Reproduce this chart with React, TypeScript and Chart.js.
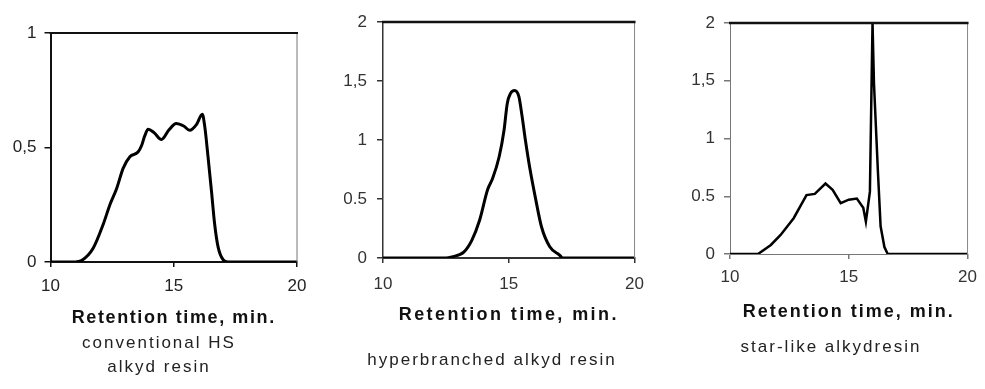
import React, { useEffect, useRef } from "react";
import { Chart, registerables } from "chart.js";

Chart.register(...registerables);

// ---------- data ----------
const hsTime = [10, 11, 11.26, 11.73, 12.14, 12.41, 12.68, 12.95, 13.22, 13.55, 13.7, 13.82, 13.96, 14.2, 14.5, 14.8, 15.1, 15.4, 15.65, 15.92, 16.16, 16.26, 16.39, 16.53, 16.66, 16.8, 17.0, 17.2, 20];
const hsSignal = [0, 0, 0.006, 0.06, 0.165, 0.25, 0.32, 0.41, 0.46, 0.48, 0.51, 0.55, 0.58, 0.565, 0.535, 0.576, 0.605, 0.594, 0.575, 0.6, 0.645, 0.59, 0.46, 0.31, 0.165, 0.065, 0.01, 0, 0];

const hbTime = [10, 12.5, 12.74, 13.21, 13.53, 13.84, 14.16, 14.36, 14.62, 14.81, 14.94, 15.07, 15.23, 15.4, 15.53, 15.66, 15.85, 16.05, 16.3, 16.63, 17.02, 17.15, 20];
const hbSignal = [0, 0, 0.01, 0.05, 0.15, 0.32, 0.58, 0.675, 0.86, 1.08, 1.31, 1.395, 1.42, 1.37, 1.2, 1.0, 0.745, 0.52, 0.265, 0.096, 0.025, 0, 0];

const starTime = [10, 11.18, 11.72, 12.13, 12.68, 13.22, 13.57, 14.02, 14.32, 14.66, 15.0, 15.34, 15.61, 15.72, 15.89, 15.96, 16.0, 16.06, 16.23, 16.34, 16.5, 16.64, 20];
const starSignal = [0, 0, 0.078, 0.165, 0.31, 0.51, 0.52, 0.61, 0.555, 0.44, 0.47, 0.48, 0.4, 0.28, 0.54, 1.48, 2.0, 1.48, 0.7, 0.24, 0.06, 0, 0];

const xTickValues = [10, 15, 20];
const xTickLabels = ["10", "15", "20"];

const hsYTickValues = [0, 0.5, 1];
const hsYTickLabels = ["0", "0,5", "1"];
const hbYTickValues = [0, 0.5, 1, 1.5, 2];
const hbYTickLabels = ["0", "0.5", "1", "1,5", "2"];
const starYTickValues = [0, 0.5, 1, 1.5, 2];
const starYTickLabels = ["0", "0.5", "1", "1,5", "2"];

const axisTitle = "Retention time, min.";
const hsCaption = ["conventional HS", "alkyd resin"];
const hbCaption = ["hyperbranched alkyd resin"];
const starCaption = ["star-like alkydresin"];

// ---------- plugin: frame + title letter spacing ----------
const framePlugin = {
  id: "frame",
  beforeDraw(chart: any, _args: any, opts: any) {
    (chart.ctx as any).letterSpacing = (opts.titleSpacing || 0) + "px";
  },
  beforeDatasetsDraw(chart: any) {
    (chart.ctx as any).letterSpacing = "0px";
  },
  afterDraw(chart: any, _args: any, opts: any) {
    const { ctx, chartArea: a } = chart;
    ctx.save();
    ctx.strokeStyle = opts.rightColor;
    ctx.lineWidth = opts.rightWidth;
    ctx.beginPath();
    ctx.moveTo(a.right, a.top);
    ctx.lineTo(a.right, a.bottom);
    ctx.stroke();
    ctx.strokeStyle = opts.topColor;
    ctx.lineWidth = opts.topWidth;
    ctx.beginPath();
    ctx.moveTo(a.left - 1, a.top);
    ctx.lineTo(a.right + 1, a.top);
    ctx.stroke();
    ctx.restore();
  },
};

type PanelSpec = {
  canvasLeft: number;
  width: number;
  areaLeft: number;
  areaRight: number;
  areaTop: number;
  areaBottom: number;
  titleY: number;
  titleSpacing: number;
  xs: number[];
  ys: number[];
  yMax: number;
  yTickValues: number[];
  yTickLabels: string[];
  lineWidth: number;
  tension: number;
  tickColor: string;
  leftColor: string;
  leftWidth: number;
  bottomColor: string;
  bottomWidth: number;
  topColor: string;
  topWidth: number;
  rightColor: string;
  rightWidth: number;
  xLabelPad: number;
  yLabelPad: number;
  caption: string[];
  captionX: number;
  captionY: number;
};

const H = 389;
const TITLE_FONT = 18;
const TICK_FONT = 17;
const FONT_FAMILY = "'Liberation Sans', Arial, sans-serif";

function Panel({ s }: { s: PanelSpec }) {
  const ref = useRef<HTMLCanvasElement | null>(null);
  useEffect(() => {
    if (!ref.current) return;
    const titleHalf = (TITLE_FONT * 1.2) / 2;
    const scaleBottom = s.titleY + titleHalf;
    const chart = new Chart(ref.current, {
      type: "line",
      data: {
        datasets: [
          {
            data: s.xs.map((x, i) => ({ x, y: s.ys[i] })),
            borderColor: "#000",
            borderWidth: s.lineWidth,
            pointRadius: 0,
            tension: s.tension,
            cubicInterpolationMode: s.tension > 0 ? "monotone" : "default",
            fill: false,
          },
        ],
      },
      options: {
        responsive: false,
        animation: false,
        devicePixelRatio: 1,
        layout: {
          padding: {
            left: 0,
            top: s.areaTop,
            right: s.width - s.areaRight,
            bottom: H - scaleBottom,
          },
        },
        plugins: {
          legend: { display: false },
          tooltip: { enabled: false },
          frame: {
            titleSpacing: s.titleSpacing,
            topColor: s.topColor,
            topWidth: s.topWidth,
            rightColor: s.rightColor,
            rightWidth: s.rightWidth,
          },
        } as any,
        scales: {
          x: {
            type: "linear",
            min: 10,
            max: 20,
            afterBuildTicks: (sc: any) => {
              sc.ticks = xTickValues.map((v) => ({ value: v }));
            },
            afterFit: (sc: any) => {
              sc.height = scaleBottom - s.areaBottom;
            },
            ticks: {
              z: 1,
              padding: s.xLabelPad,
              color: s.tickColor,
              font: { family: FONT_FAMILY, size: TICK_FONT },
              maxRotation: 0,
              autoSkip: false,
              callback: (_v: any, i: number) => xTickLabels[i],
            },
            grid: {
              display: true,
              drawOnChartArea: false,
              drawTicks: true,
              tickLength: 5,
              color: s.bottomColor,
              lineWidth: 1.5,
            },
            border: { display: true, color: s.bottomColor, width: s.bottomWidth },
            title: {
              display: true,
              text: axisTitle,
              color: "#111",
              padding: { top: 0, bottom: 0 },
              font: { family: FONT_FAMILY, size: TITLE_FONT, weight: "bold" },
            },
          },
          y: {
            type: "linear",
            min: 0,
            max: s.yMax,
            afterBuildTicks: (sc: any) => {
              sc.ticks = s.yTickValues.map((v) => ({ value: v }));
            },
            afterFit: (sc: any) => {
              sc.width = s.areaLeft;
            },
            ticks: {
              z: 1,
              padding: s.yLabelPad,
              color: s.tickColor,
              font: { family: FONT_FAMILY, size: TICK_FONT },
              autoSkip: false,
              callback: (_v: any, i: number) => s.yTickLabels[i],
            },
            grid: {
              display: true,
              drawOnChartArea: false,
              drawTicks: true,
              tickLength: 6,
              color: s.leftColor,
              lineWidth: 1.5,
            },
            border: { display: true, color: s.leftColor, width: s.leftWidth },
          },
        },
      },
      plugins: [framePlugin as any],
    });
    return () => chart.destroy();
  }, [s]);

  return (
    <>
      <canvas
        ref={ref}
        width={s.width}
        height={H}
        style={{ position: "absolute", left: s.canvasLeft, top: 0, width: s.width, height: H }}
      />
      <div
        style={{
          position: "absolute",
          left: s.captionX - 200,
          top: s.captionY - 12,
          width: 400,
          textAlign: "center",
          fontFamily: FONT_FAMILY,
          fontSize: 17,
          lineHeight: "24px",
          letterSpacing: "2px",
          color: "#222",
        }}
      >
        {s.caption.map((line, i) => (
          <div key={i}>{line}</div>
        ))}
      </div>
    </>
  );
}

const panels: PanelSpec[] = [
  {
    canvasLeft: 0, width: 330, areaLeft: 50.5, areaRight: 297, areaTop: 33, areaBottom: 262, titleY: 318, titleSpacing: 1.6,
    xs: hsTime, ys: hsSignal, yMax: 1, yTickValues: hsYTickValues, yTickLabels: hsYTickLabels,
    lineWidth: 3, tension: 0.4, tickColor: "#222",
    leftColor: "#111", leftWidth: 2, bottomColor: "#111", bottomWidth: 2, topColor: "#111", topWidth: 2, rightColor: "#777", rightWidth: 1,
    xLabelPad: 9, yLabelPad: 8, caption: hsCaption, captionX: 159, captionY: 343,
  },
  {
    canvasLeft: 330, width: 325, areaLeft: 53, areaRight: 309, areaTop: 22, areaBottom: 258, titleY: 315, titleSpacing: 2.4,
    xs: hbTime, ys: hbSignal, yMax: 2, yTickValues: hbYTickValues, yTickLabels: hbYTickLabels,
    lineWidth: 3, tension: 0.4, tickColor: "#333",
    leftColor: "#333", leftWidth: 1.5, bottomColor: "#333", bottomWidth: 2, topColor: "#111", topWidth: 2.5, rightColor: "#888", rightWidth: 1,
    xLabelPad: 11, yLabelPad: 10, caption: hbCaption, captionX: 492, captionY: 360,
  },
  {
    canvasLeft: 655, width: 330, areaLeft: 75, areaRight: 316.7, areaTop: 23, areaBottom: 254, titleY: 311.7, titleSpacing: 2,
    xs: starTime, ys: starSignal, yMax: 2, yTickValues: starYTickValues, yTickLabels: starYTickLabels,
    lineWidth: 2.5, tension: 0, tickColor: "#333",
    leftColor: "#777", leftWidth: 1, bottomColor: "#777", bottomWidth: 1, topColor: "#111", topWidth: 2.5, rightColor: "#888", rightWidth: 1,
    xLabelPad: 8, yLabelPad: 9, caption: starCaption, captionX: 831, captionY: 347,
  },
];

export default function App() {
  return (
    <div style={{ position: "absolute", left: 0, top: 0, width: 985, height: 389, background: "#fff", overflow: "hidden" }}>
      {panels.map((p, i) => (
        <Panel key={i} s={p} />
      ))}
    </div>
  );
}
